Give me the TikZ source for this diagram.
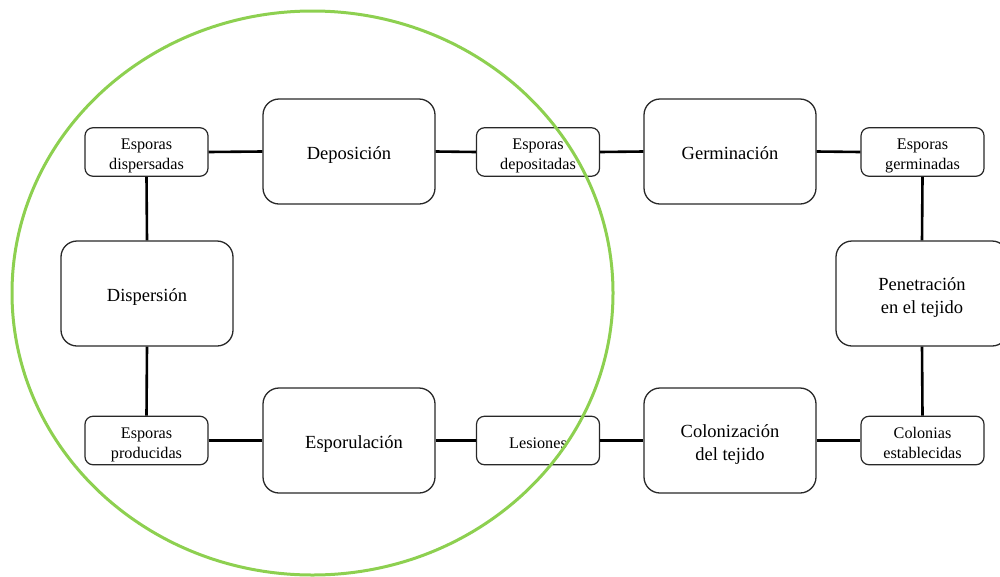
\documentclass[tikz,border=0pt]{standalone}
\usepackage{fontspec}
\setmainfont{Liberation Serif}
\newfontfamily\diagserif{Liberation Serif}
\definecolor{ringgreen}{RGB}{141,208,80}
\definecolor{boxline}{RGB}{40,40,40}
\newcommand{\lowtext}[1]{\raisebox{-3.5pt}[\height][\depth]{\begin{tabular}{@{}c@{}}#1\end{tabular}}}
\begin{document}
\begin{tikzpicture}[x=1pt,y=-1pt,
  bigbox/.style={draw=boxline,line width=1.3pt,rounded corners=16pt,fill=white,
    minimum width=172pt,minimum height=105pt,inner sep=0pt,align=center,
    font=\diagserif\fontsize{18.5}{23}\selectfont},
  smallbox/.style={draw=boxline,line width=1.2pt,rounded corners=8pt,fill=white,
    minimum width=123pt,minimum height=48.5pt,inner sep=0pt,align=center,
    font=\diagserif\fontsize{16.2}{20}\selectfont},
  link/.style={line width=2.6pt,black}]
\useasboundingbox (0,0) rectangle (1000,576);
% top row
\node[smallbox] (edisp) at (146.5,152) {\lowtext{Esporas\\dispersadas}};
\node[bigbox] (depo) at (349,151.5) {\lowtext{Deposición}};
\node[smallbox] (edepo) at (538,152) {\lowtext{Esporas\\depositadas}};
\node[bigbox] (germ) at (730,151.5) {\lowtext{Germinación}};
\node[smallbox] (egerm) at (922.5,152) {\lowtext{Esporas\\germinadas}};
% middle row
\node[bigbox] (disp) at (147,293.5) {\lowtext{Dispersión}};
\node[bigbox] (pene) at (922,293.5) {\lowtext{Penetración\\en el tejido}};
% bottom row
\node[smallbox] (eprod) at (146.5,440.5) {\lowtext{Esporas\\producidas}};
\node[bigbox] (espo) at (349,440.5) {\lowtext{\hspace*{10pt}Esporulación}};
\node[smallbox] (lesi) at (538,440.5) {\lowtext{Lesiones}};
\node[bigbox] (colo) at (730,440.5) {\lowtext{Colonización\\del tejido}};
\node[smallbox] (colon) at (922.5,440.5) {\lowtext{Colonias\\establecidas}};
% connectors
\draw[link] (edisp.east) -- (depo.west);
\draw[link] (depo.east) -- (edepo.west);
\draw[link] (edepo.east) -- (germ.west);
\draw[link] (germ.east) -- (egerm.west);
\draw[link] (edisp.south) -- (disp.north);
\draw[link] (disp.south) -- (eprod.north);
\draw[link] (eprod.east) -- (espo.west);
\draw[link] (espo.east) -- (lesi.west);
\draw[link] (lesi.east) -- (colo.west);
\draw[link] (colo.east) -- (colon.west);
\draw[link] (egerm.south) -- (pene.north);
\draw[link] (pene.south) -- (colon.north);
% green ring
\draw[ringgreen,line width=3pt] (312.5,293) ellipse [x radius=300.5,y radius=282];
\end{tikzpicture}
\end{document}
